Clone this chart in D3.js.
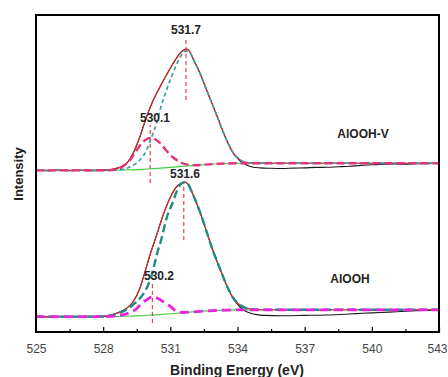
<!DOCTYPE html>
<html>
<head>
<meta charset="utf-8">
<script src="https://cdn.jsdelivr.net/npm/d3@7/dist/d3.min.js"></script>
<style>
  html, body { margin: 0; padding: 0; background: #fff; }
  svg { display: block; font-family: Arial, "Liberation Sans", sans-serif; }
</style>
</head>
<body>
<svg id="chart" width="448" height="377"></svg>
<script>
// ---------------- DATA (binding energy eV, intensity a.u.) ----------------
const energyTicks = [525, 528, 531, 534, 537, 540, 543];
const energyMinorTicks = [526.5, 529.5, 532.5, 535.5, 538.5, 541.5];
const sampleNames = ["AlOOH-V", "AlOOH"];
const peakEnergies = [531.7, 530.1, 531.6, 530.2];
const peakTexts = ["531.7", "530.1", "531.6", "530.2"];

// AlOOH-V (upper)
const upperExp = [[525,161.8],[525.5,161.2],[526,161.9],[526.5,161.3],[527,161.7],[527.5,161.2],[528,161.8],[528.3,162.3],[528.6,163.7],[528.8,165.2],[529.05,168.7],[529.34,178.7],[529.64,195.3],[529.94,215.3],[530.24,232],[530.54,245.3],[530.84,257.5],[531.13,268.7],[531.43,278.7],[531.6,282],[531.73,283],[531.85,281],[532.02,273],[532.32,259],[532.62,242],[532.92,225.3],[533.21,208.7],[533.51,192],[533.81,178.7],[534.11,171.2],[534.4,167],[534.7,164.8],[535,164.1],[535.5,163.7],[536,163.5],[536.5,163.9],[537,164.1],[537.5,164.6],[538,164.7],[538.5,165.2],[539,165.7],[539.5,166.6],[540,167.2],[540.5,167.8],[541,168],[541.5,167.8],[542,168.2],[542.5,168.4],[543,168.7]];
const upperFit = [[525,161.6],[527,161.6],[528,161.7],[528.3,162.2],[528.6,163.7],[528.8,165.2],[529.05,168.7],[529.34,178.7],[529.64,195.3],[529.94,215.3],[530.24,232],[530.54,245.3],[530.84,257.5],[531.13,268.7],[531.43,278.7],[531.6,282],[531.73,282.6],[531.85,281],[532.02,273],[532.32,259],[532.62,242],[532.92,225.3],[533.21,208.7],[533.51,192],[533.81,179.2],[534.11,172.3],[534.4,169.6],[534.8,168.9],[535.3,168.8],[543,168.8]];
const upperMain = [[525,161.6],[528,161.7],[528.5,161.9],[529,163.4],[529.2,165.3],[529.64,172],[529.94,182],[530.17,195.3],[530.39,209],[530.54,222],[530.83,242],[531.12,259],[531.5,277],[531.7,281],[531.9,278.5],[532.02,273],[532.32,259],[532.62,242],[532.92,225.3],[533.21,208.7],[533.51,192],[533.81,179.2],[534.11,172.3],[534.4,169.6],[534.8,168.9],[535.3,168.8],[543,168.8]];
const upperMinor = [[525,161.6],[528,161.7],[528.6,162.5],[528.9,166],[529.2,172],[529.5,182],[529.8,190.5],[530.1,194],[530.3,193],[530.54,189],[530.8,182],[531.1,175],[531.43,170],[531.7,167.6],[532.1,166.8],[532.5,167.3],[533,168],[533.5,168.5],[534,168.7],[535,168.8],[543,168.8]];
const upperBg = [[525,161.5],[527,161.6],[528,161.7],[528.5,161.8],[529,162],[529.5,162.4],[530,163],[530.5,163.8],[531,164.6],[531.5,165.5],[532,166.4],[532.5,167.3],[533,168],[533.5,168.5],[534,168.7],[535,168.8],[543,168.8]];

// AlOOH (lower)
const lowerExp = [[525,15.5],[525.5,15],[526,15.6],[526.5,15.1],[527,15.5],[527.5,15.2],[528,15.8],[528.3,17],[528.6,18.7],[529.05,23.7],[529.34,30.3],[529.64,43.7],[529.87,60.3],[530.09,77],[530.39,97],[530.68,117],[530.98,133.7],[531.28,145.3],[531.5,149],[531.62,150],[531.75,148.8],[532.02,137],[532.32,120.3],[532.62,100.3],[532.92,80.3],[533.21,63.7],[533.51,47],[533.81,33.5],[534.11,25],[534.41,20.2],[534.8,17.6],[535.2,16.6],[536,16.3],[537,16.6],[538,17],[539,18],[539.6,18.7],[540.4,19.5],[541.1,20.3],[542,21.2],[543,22]];
const lowerFit = [[525,15.3],[528,15.5],[528.3,16.8],[528.6,18.7],[529.05,23.7],[529.34,30.3],[529.64,43.7],[529.87,60.3],[530.09,77],[530.39,97],[530.68,117],[530.98,133.7],[531.28,145.3],[531.5,149],[531.62,149.8],[531.75,148.8],[532.02,137],[532.32,120.3],[532.62,100.3],[532.92,80.3],[533.21,63.7],[533.51,47],[533.81,34],[534.11,27],[534.41,23.7],[534.91,22.3],[535.5,22.2],[543,22.2]];
const lowerMain = [[525,15.3],[528,15.5],[528.75,19.3],[529.27,26],[529.64,33.7],[529.94,43.7],[530.17,57],[530.39,77],[530.61,93.7],[530.83,113.7],[531.06,127],[531.43,147],[531.6,149.5],[531.75,148.6],[532.02,137],[532.32,120.3],[532.62,100.3],[532.92,80.3],[533.21,63.7],[533.51,47],[533.81,34],[534.11,27],[534.41,23.7],[534.91,22.3],[535.5,22.2],[543,22.2]];
const lowerMinor = [[525,15.3],[528,15.4],[528.8,16.8],[529.2,19.5],[529.45,22.5],[529.72,28.7],[530,33],[530.2,35.3],[530.45,33.5],[530.68,30.3],[530.98,26],[531.28,20.8],[531.6,19.5],[532,20.1],[532.5,20.9],[533,21.5],[533.5,21.9],[534,22.1],[543,22.2]];
const lowerBg = [[525,15.3],[528,15.4],[529,15.7],[529.5,16.1],[530,16.7],[530.5,17.4],[531,18.2],[531.5,19.2],[532,20.1],[532.5,20.9],[533,21.5],[533.5,21.9],[534,22.1],[536,22.2],[543,22.2]];

// ---------------- LAYOUT ----------------
const W = 448, H = 377;
const plot = {left: 36, right: 439, top: 15, bottom: 332};
const svg = d3.select("#chart");

const x = d3.scaleLinear().domain([525, 543]).range([plot.left, plot.right]);
const y = d3.scaleLinear().domain([0, 317]).range([plot.bottom, plot.top]);

const line = d3.line().x(d => x(d[0])).y(d => y(d[1])).curve(d3.curveMonotoneX);

svg.append("clipPath").attr("id", "clip").append("rect")
  .attr("x", plot.left).attr("y", plot.top)
  .attr("width", plot.right - plot.left).attr("height", plot.bottom - plot.top);

const g = svg.append("g").attr("clip-path", "url(#clip)");

function drawSeries(data, color, width, dash) {
  const p = g.append("path").datum(data)
    .attr("d", line).attr("fill", "none")
    .attr("stroke", color).attr("stroke-width", width)
    .attr("stroke-linejoin", "round");
  if (dash) p.attr("stroke-dasharray", dash);
}

// upper spectrum
drawSeries(upperBg, "#3ccf3c", 1.1);
drawSeries(upperExp, "#1a1a1a", 1.1);
drawSeries(upperFit, "#e02424", 1.1);
drawSeries(upperMain, "#3a9ea4", 1.7, "4,3");
drawSeries(upperMinor, "#e2317d", 2.4, "8,4");
// lower spectrum
drawSeries(lowerBg, "#3ccf3c", 1.1);
drawSeries(lowerExp, "#1a1a1a", 1.1);
drawSeries(lowerFit, "#e02424", 1.1);
drawSeries(lowerMain, "#1f8c86", 2.4, "8,4");
drawSeries(lowerMinor, "#ee22dd", 2.8, "9,5");

// peak marker lines (intensity extents)
const markerSpans = [[232, 295], [149, 207], [92, 147], [9, 49]];
peakEnergies.forEach((e, i) => {
  g.append("line")
    .attr("x1", x(e)).attr("x2", x(e))
    .attr("y1", y(markerSpans[i][0])).attr("y2", y(markerSpans[i][1]))
    .attr("stroke", "#e2454a").attr("stroke-width", 1.2)
    .attr("stroke-dasharray", "4,3");
});

// peak labels
const labelPos = [[186, 34], [155, 122], [185, 178], [159, 280]];
peakTexts.forEach((t, i) => {
  svg.append("text").attr("x", labelPos[i][0]).attr("y", labelPos[i][1])
    .attr("text-anchor", "middle").attr("font-size", 12).attr("font-weight", "bold")
    .attr("fill", "#222").text(t);
});

// sample labels
const samplePos = [[363, 138], [350, 283]];
sampleNames.forEach((t, i) => {
  svg.append("text").attr("x", samplePos[i][0]).attr("y", samplePos[i][1])
    .attr("text-anchor", "middle").attr("font-size", 12).attr("font-weight", "bold")
    .attr("fill", "#222").text(t);
});

// frame
svg.append("rect")
  .attr("x", plot.left).attr("y", plot.top)
  .attr("width", plot.right - plot.left).attr("height", plot.bottom - plot.top)
  .attr("fill", "none").attr("stroke", "#000").attr("stroke-width", 2);

// x axis
const xAxis = d3.axisBottom(x).tickValues(energyTicks).tickSize(-5).tickPadding(12)
  .tickFormat(d3.format("d"));
const ax = svg.append("g").attr("transform", `translate(0,${plot.bottom})`).call(xAxis);
ax.select(".domain").remove();
ax.selectAll(".tick line").attr("stroke", "#000").attr("stroke-width", 1.2);
ax.selectAll(".tick text").attr("font-size", 12).attr("fill", "#444")
  .attr("font-family", "Arial, 'Liberation Sans', sans-serif")
  .attr("dx", d => d === energyTicks[energyTicks.length - 1] ? -2 : 0);

const axMinor = d3.axisBottom(x).tickValues(energyMinorTicks).tickSize(-3).tickFormat("");
const am = svg.append("g").attr("transform", `translate(0,${plot.bottom})`).call(axMinor);
am.select(".domain").remove();
am.selectAll(".tick line").attr("stroke", "#000").attr("stroke-width", 1.2);

// axis titles
svg.append("text").attr("x", 237).attr("y", 375)
  .attr("text-anchor", "middle").attr("font-size", 14).attr("font-weight", "bold")
  .attr("fill", "#222").text("Binding Energy (eV)");
svg.append("text")
  .attr("transform", "translate(23,174) rotate(-90)")
  .attr("text-anchor", "middle").attr("font-size", 13).attr("font-weight", "bold")
  .attr("fill", "#222").text("Intensity");
</script>
</body>
</html>
